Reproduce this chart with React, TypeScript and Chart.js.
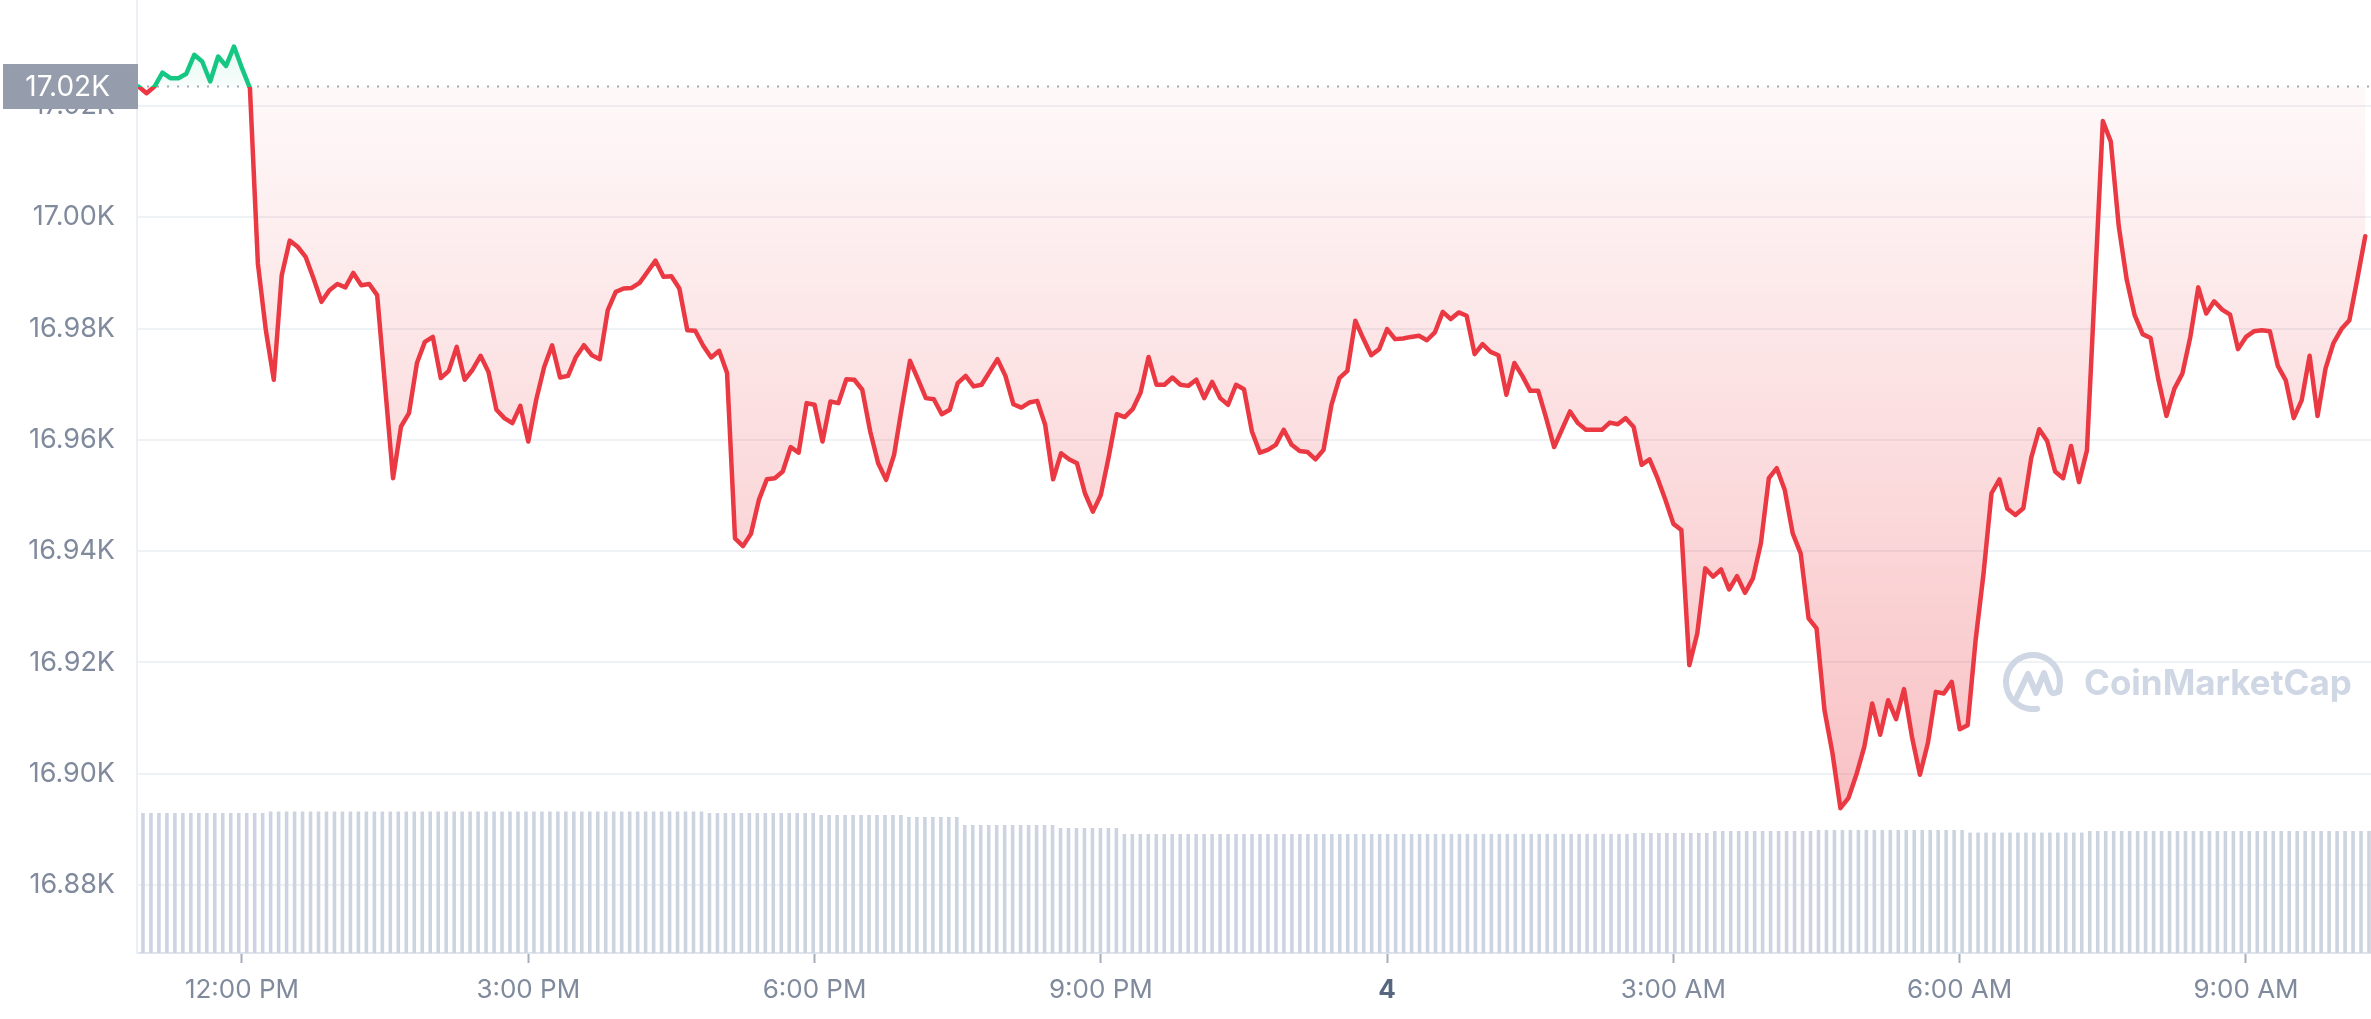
import React, { useEffect, useRef } from 'react';
import { Chart, registerables } from 'chart.js';

Chart.register(...registerables);

// ---- Data (minutes relative to 12:00 PM, Dec 3) ----
const priceMinutes = [
  -65, -60, -55, -50, -45, -40, -35, -30, -25, -20, -15, -10, -5, 0, 5, 10, 15, 20, 25, 30,
  35, 40, 45, 50, 55, 60, 65, 70, 75, 80, 85, 95, 100, 105, 110, 115, 120, 125, 130, 135,
  140, 145, 150, 155, 160, 165, 170, 175, 180, 185, 190, 195, 200, 205, 210, 215, 220, 225, 230, 235,
  240, 245, 250, 255, 260, 265, 270, 275, 280, 285, 290, 295, 300, 305, 310, 315, 320, 325, 330, 335,
  340, 345, 350, 355, 360, 365, 370, 375, 380, 385, 390, 395, 400, 405, 410, 415, 420, 425, 430, 435,
  440, 445, 450, 455, 460, 465, 470, 475, 480, 485, 490, 495, 500, 505, 510, 515, 520, 525, 530, 535,
  540, 545, 550, 555, 560, 565, 570, 575, 580, 585, 590, 595, 600, 605, 610, 615, 620, 625, 630, 635,
  640, 645, 650, 655, 660, 665, 670, 675, 680, 685, 690, 695, 700, 705, 710, 715, 720, 725, 730, 735,
  740, 745, 750, 755, 760, 765, 770, 775, 780, 785, 790, 795, 800, 805, 810, 815, 820, 825, 830, 835,
  840, 845, 850, 855, 860, 865, 870, 875, 880, 885, 890, 895, 900, 905, 910, 915, 920, 925, 930, 935,
  940, 945, 950, 955, 960, 965, 970, 975, 980, 985, 990, 995, 1000, 1005, 1010, 1015, 1020, 1025, 1030, 1035,
  1040, 1045, 1050, 1055, 1060, 1065, 1070, 1075, 1080, 1085, 1090, 1095, 1100, 1105, 1110, 1115, 1120, 1125, 1130, 1135,
  1140, 1145, 1150, 1155, 1160, 1170, 1175, 1180, 1185, 1190, 1195, 1200, 1205, 1210, 1215, 1220, 1225, 1230, 1235, 1240,
  1245, 1250, 1255, 1260, 1265, 1270, 1275, 1280, 1285, 1290, 1295, 1300, 1305, 1310, 1315, 1320, 1325, 1330, 1335,
];

const priceValues = [
  17023.5, 17022.3, 17023.5, 17026.0, 17025.0, 17025.0, 17025.8, 17029.2, 17028.0, 17024.4,
  17028.9, 17027.2, 17030.7, 17026.8, 17023.2, 16991.7, 16979.7, 16970.8, 16989.6, 16995.8,
  16994.7, 16992.9, 16989.0, 16984.8, 16986.9, 16988.0, 16987.4, 16990.0, 16987.8, 16988.0,
  16986.0, 16953.1, 16962.4, 16964.8, 16973.8, 16977.6, 16978.5, 16971.1, 16972.4, 16976.7,
  16970.8, 16972.6, 16975.1, 16972.2, 16965.4, 16963.9, 16963.0, 16966.1, 16959.7, 16967.2,
  16973.1, 16977.0, 16971.2, 16971.5, 16974.9, 16977.0, 16975.2, 16974.5, 16983.3, 16986.6,
  16987.2, 16987.3, 16988.2, 16990.2, 16992.2, 16989.3, 16989.4, 16987.2, 16979.7, 16979.6,
  16976.9, 16974.8, 16976.0, 16972.0, 16942.3, 16940.9, 16943.1, 16949.2, 16952.9, 16953.1,
  16954.3, 16958.7, 16957.7, 16966.6, 16966.3, 16959.7, 16966.9, 16966.6, 16970.9, 16970.8,
  16969.0, 16961.5, 16955.8, 16952.8, 16957.3, 16966.0, 16974.2, 16970.9, 16967.5, 16967.3,
  16964.6, 16965.4, 16970.2, 16971.5, 16969.6, 16969.9, 16972.2, 16974.5, 16971.5, 16966.4,
  16965.8, 16966.7, 16967.0, 16962.7, 16952.9, 16957.6, 16956.5, 16955.8, 16950.4, 16947.1,
  16950.1, 16957.0, 16964.6, 16964.1, 16965.5, 16968.5, 16974.9, 16969.9, 16969.9, 16971.2,
  16969.9, 16969.7, 16970.8, 16967.5, 16970.4, 16967.5, 16966.3, 16969.9, 16969.1, 16961.5,
  16957.7, 16958.2, 16959.1, 16961.8, 16959.1, 16958.0, 16957.8, 16956.5, 16958.2, 16966.3,
  16971.1, 16972.4, 16981.4, 16978.2, 16975.2, 16976.3, 16979.9, 16978.1, 16978.2, 16978.5,
  16978.7, 16977.9, 16979.3, 16983.0, 16981.7, 16982.9, 16982.3, 16975.4, 16977.2, 16975.8,
  16975.2, 16968.1, 16973.8, 16971.5, 16968.8, 16968.8, 16963.9, 16958.7, 16961.9, 16965.1,
  16963.0, 16961.8, 16961.8, 16961.8, 16963.1, 16962.8, 16963.9, 16962.3, 16955.5, 16956.5,
  16953.1, 16949.2, 16944.9, 16943.8, 16919.5, 16925.2, 16936.9, 16935.4, 16936.7, 16933.1,
  16935.5, 16932.5, 16935.1, 16941.4, 16953.1, 16954.9, 16951.0, 16943.2, 16939.6, 16927.9,
  16926.1, 16911.4, 16903.7, 16893.8, 16895.6, 16899.8, 16904.8, 16912.6, 16907.0, 16913.2,
  16909.8, 16915.2, 16906.6, 16899.8, 16905.5, 16914.7, 16914.4, 16916.5, 16908.0, 16908.7,
  16924.0, 16936.0, 16950.4, 16952.9, 16947.6, 16946.5, 16947.7, 16956.8, 16961.9, 16959.8,
  16954.3, 16953.1, 16958.9, 16952.4, 16958.1, 17017.3, 17013.6, 16998.4, 16988.8, 16982.4,
  16979.0, 16978.3, 16970.7, 16964.3, 16969.2, 16971.9, 16978.5, 16987.4, 16982.7, 16984.9,
  16983.4, 16982.5, 16976.3, 16978.5, 16979.5, 16979.7, 16979.5, 16973.3, 16970.7, 16963.9,
  16967.1, 16975.1, 16964.3, 16972.8, 16977.4, 16979.9, 16981.5, 16988.9, 16996.6,
];

const baselinePrice = 17023.5;

// Volume bars (arbitrary units on a hidden 0..100 axis)
const volumeValues = [
  14.69, 14.69, 14.69, 14.69, 14.69, 14.69, 14.69, 14.69, 14.69, 14.69, 14.69, 14.69, 14.69, 14.69, 14.69, 14.69, 14.85, 14.85, 14.85, 14.85,
  14.85, 14.85, 14.85, 14.85, 14.85, 14.85, 14.85, 14.85, 14.85, 14.85, 14.85, 14.85, 14.85, 14.85, 14.85, 14.85, 14.85, 14.85, 14.85, 14.85,
  14.85, 14.85, 14.85, 14.85, 14.85, 14.85, 14.85, 14.85, 14.85, 14.85, 14.85, 14.85, 14.85, 14.85, 14.85, 14.85, 14.85, 14.85, 14.85, 14.85,
  14.85, 14.85, 14.85, 14.85, 14.85, 14.85, 14.85, 14.85, 14.85, 14.85, 14.85, 14.69, 14.69, 14.69, 14.69, 14.69, 14.69, 14.69, 14.69, 14.69,
  14.69, 14.69, 14.69, 14.69, 14.69, 14.48, 14.48, 14.48, 14.48, 14.48, 14.48, 14.48, 14.48, 14.48, 14.48, 14.48, 14.27, 14.27, 14.27, 14.27,
  14.27, 14.27, 14.27, 13.43, 13.43, 13.43, 13.43, 13.43, 13.43, 13.43, 13.43, 13.43, 13.43, 13.43, 13.43, 13.12, 13.12, 13.12, 13.12, 13.12,
  13.12, 13.12, 13.12, 12.49, 12.49, 12.49, 12.49, 12.49, 12.49, 12.49, 12.49, 12.49, 12.49, 12.49, 12.49, 12.49, 12.49, 12.49, 12.49, 12.49,
  12.49, 12.49, 12.49, 12.49, 12.49, 12.49, 12.49, 12.49, 12.49, 12.49, 12.49, 12.49, 12.49, 12.49, 12.49, 12.49, 12.49, 12.49, 12.49, 12.49,
  12.49, 12.49, 12.49, 12.49, 12.49, 12.49, 12.49, 12.49, 12.49, 12.49, 12.49, 12.49, 12.49, 12.49, 12.49, 12.49, 12.49, 12.49, 12.49, 12.49,
  12.49, 12.49, 12.49, 12.49, 12.49, 12.49, 12.49, 12.59, 12.59, 12.59, 12.59, 12.59, 12.59, 12.59, 12.59, 12.59, 12.59, 12.80, 12.80, 12.80,
  12.80, 12.80, 12.80, 12.80, 12.80, 12.80, 12.80, 12.80, 12.80, 12.80, 12.91, 12.91, 12.91, 12.91, 12.91, 12.91, 12.91, 12.91, 12.91, 12.91,
  12.91, 12.91, 12.91, 12.91, 12.91, 12.91, 12.91, 12.91, 12.91, 12.64, 12.64, 12.64, 12.64, 12.64, 12.64, 12.64, 12.64, 12.64, 12.64, 12.64,
  12.64, 12.64, 12.64, 12.64, 12.80, 12.80, 12.80, 12.80, 12.80, 12.80, 12.80, 12.80, 12.80, 12.80, 12.80, 12.80, 12.80, 12.80, 12.80, 12.80,
  12.80, 12.80, 12.80, 12.80, 12.80, 12.80, 12.80, 12.80, 12.80, 12.80, 12.80, 12.80, 12.80, 12.80, 12.80, 12.80, 12.80, 12.80, 12.80, 12.80,
];

const yTickValues = [16880, 16900, 16920, 16940, 16960, 16980, 17000, 17020];
const xTickMinutes = [0, 180, 360, 540, 720, 900, 1080, 1260];
const xTickLabels = ['12:00 PM', '3:00 PM', '6:00 PM', '9:00 PM', '4', '3:00 AM', '6:00 AM', '9:00 AM'];

const RED = '#ea3943';
const GREEN = '#16c784';
const TEXT_GRAY = '#808a9d';
const FONT = 'Inter, "Noto Sans", sans-serif';

const fmtK = (v: number) => (v / 1000).toFixed(2) + 'K';

function baselineFrac(chart: any) {
  const area = chart.chartArea;
  const yb = chart.scales.y.getPixelForValue(baselinePrice);
  let f = (yb - area.top) / (area.bottom - area.top);
  return Math.min(1, Math.max(0, f));
}

const overlayPlugin = {
  id: 'cmcOverlay',
  beforeDatasetsDraw(chart: any) {
    const { ctx, chartArea, scales } = chart;
    // watermark
    ctx.save();
    const cx = 2033, cy = 682, r = 27;
    ctx.strokeStyle = '#cfd6e4';
    ctx.lineWidth = 6;
    ctx.lineCap = 'round';
    ctx.lineJoin = 'round';
    ctx.beginPath();
    ctx.arc(cx, cy, r, 0.45 * Math.PI, 2.12 * Math.PI);
    ctx.stroke();
    ctx.beginPath();
    ctx.moveTo(cx - 18, cy + 19);
    ctx.lineTo(cx - 5, cy - 8);
    ctx.lineTo(cx + 3, cy + 11);
    ctx.lineTo(cx + 11, cy - 9);
    ctx.lineTo(cx + 17, cy + 8);
    ctx.quadraticCurveTo(cx + 20, cy + 14, cx + 26, cy + 9);
    ctx.stroke();
    ctx.fillStyle = '#cfd6e4';
    ctx.font = `700 35px ${FONT}`;
    ctx.textAlign = 'left';
    ctx.textBaseline = 'middle';
    ctx.fillText('CoinMarketCap', 2084, 684);
    ctx.restore();

    // dotted baseline
    const yb = scales.y.getPixelForValue(baselinePrice);
    ctx.save();
    ctx.strokeStyle = '#a3a9b6';
    ctx.lineWidth = 2;
    ctx.setLineDash([2, 8]);
    ctx.beginPath();
    ctx.moveTo(chartArea.left, yb);
    ctx.lineTo(chartArea.right, yb);
    ctx.stroke();
    ctx.restore();
  },
  afterDraw(chart: any) {
    const { ctx, scales } = chart;
    const yb = scales.y.getPixelForValue(baselinePrice);
    ctx.save();
    ctx.fillStyle = '#959cab';
    ctx.fillRect(3, yb - 22.5, 135, 45);
    ctx.fillStyle = '#ffffff';
    ctx.font = `400 28px ${FONT}`;
    ctx.textAlign = 'right';
    ctx.textBaseline = 'middle';
    ctx.fillText(fmtK(baselinePrice), 110, yb + 1);
    ctx.restore();
  },
};

export default function App() {
  const canvasRef = useRef<HTMLCanvasElement | null>(null);

  useEffect(() => {
    const canvas = canvasRef.current;
    if (!canvas) return;
    document.body.style.margin = '0';

    const linePoints = priceMinutes.map((t, i) => ({ x: t, y: priceValues[i] }));
    const volumeLabels = volumeValues.map((_, i) => String(i));

    const chart = new Chart(canvas, {
      type: 'bar',
      data: {
        labels: volumeLabels,
        datasets: [
          {
            type: 'line',
            data: linePoints as any,
            xAxisID: 'x',
            yAxisID: 'y',
            order: 0,
            borderWidth: 4.5,
            pointRadius: 0,
            pointHoverRadius: 0,
            tension: 0,
            borderJoinStyle: 'round',
            borderCapStyle: 'round',
            borderColor: (c: any) => {
              const chart = c.chart;
              const area = chart.chartArea;
              if (!area || !chart.scales.y) return RED;
              const f = baselineFrac(chart);
              const g = chart.ctx.createLinearGradient(0, area.top, 0, area.bottom);
              g.addColorStop(0, GREEN);
              g.addColorStop(f, GREEN);
              g.addColorStop(Math.min(1, f + 0.0001), RED);
              g.addColorStop(1, RED);
              return g;
            },
            backgroundColor: (c: any) => {
              const chart = c.chart;
              const area = chart.chartArea;
              if (!area || !chart.scales.y) return 'rgba(234,57,67,0.1)';
              const f = baselineFrac(chart);
              const g = chart.ctx.createLinearGradient(0, area.top, 0, area.bottom);
              g.addColorStop(0, 'rgba(22,199,132,0.22)');
              g.addColorStop(f, 'rgba(22,199,132,0.03)');
              g.addColorStop(Math.min(1, f + 0.0001), 'rgba(234,57,67,0.03)');
              g.addColorStop(1, 'rgba(234,57,67,0.37)');
              return g;
            },
            fill: { value: baselinePrice } as any,
          } as any,
          {
            type: 'bar',
            data: volumeValues,
            xAxisID: 'xb',
            yAxisID: 'yv',
            order: 1,
            backgroundColor: '#cdd4e1',
            borderWidth: 0,
            categoryPercentage: 1,
            barPercentage: 0.9,
          } as any,
        ],
      },
      options: {
        responsive: false,
        devicePixelRatio: 1,
        animation: false,
        events: [],
        layout: { padding: 0 },
        plugins: {
          legend: { display: false },
          tooltip: { enabled: false },
        },
        scales: {
          x: {
            type: 'linear',
            position: 'bottom',
            offset: false,
            min: -66,
            max: 1338.6,
            afterBuildTicks: (s: any) => {
              s.ticks = xTickMinutes.map((v) => ({ value: v }));
            },
            afterFit: (s: any) => {
              s.height = 66;
              s.paddingLeft = 0;
              s.paddingRight = 0;
            },
            grid: {
              offset: false,
              drawOnChartArea: false,
              drawTicks: true,
              tickLength: 10,
              tickColor: '#a5adbb',
              tickWidth: 2,
            },
            border: { display: true, color: '#dfe4ec', width: 2 },
            ticks: {
              autoSkip: false,
              maxRotation: 0,
              padding: 12,
              color: (c: any) => (c.index === 4 ? '#58667e' : TEXT_GRAY),
              font: (c: any) => ({ family: FONT, size: 26, weight: c.index === 4 ? 'bold' : 'normal' }),
              callback: (_v: any, i: number) => xTickLabels[i],
            },
          },
          xb: {
            type: 'category',
            display: false,
            offset: true,
          },
          y: {
            type: 'linear',
            position: 'left',
            min: 16867.77,
            max: 17039.05,
            afterBuildTicks: (s: any) => {
              s.ticks = yTickValues.map((v) => ({ value: v }));
            },
            afterFit: (s: any) => {
              s.width = 137;
              s.paddingTop = 0;
              s.paddingBottom = 0;
            },
            grid: { color: '#eff2f5', lineWidth: 2, drawTicks: false },
            border: { display: true, color: '#eceff3', width: 2 },
            ticks: {
              padding: 22,
              color: TEXT_GRAY,
              font: { family: FONT, size: 27 },
              callback: (v: any) => fmtK(Number(v)),
            },
          },
          yv: {
            type: 'linear',
            display: false,
            min: 0,
            max: 100,
          },
        },
      } as any,
      plugins: [overlayPlugin],
    });

    return () => chart.destroy();
  }, []);

  return (
    <div style={{ position: 'absolute', left: 0, top: 0, width: 2371, height: 1019, background: '#fff' }}>
      <canvas ref={canvasRef} width={2371} height={1019} style={{ display: 'block' }} />
    </div>
  );
}
